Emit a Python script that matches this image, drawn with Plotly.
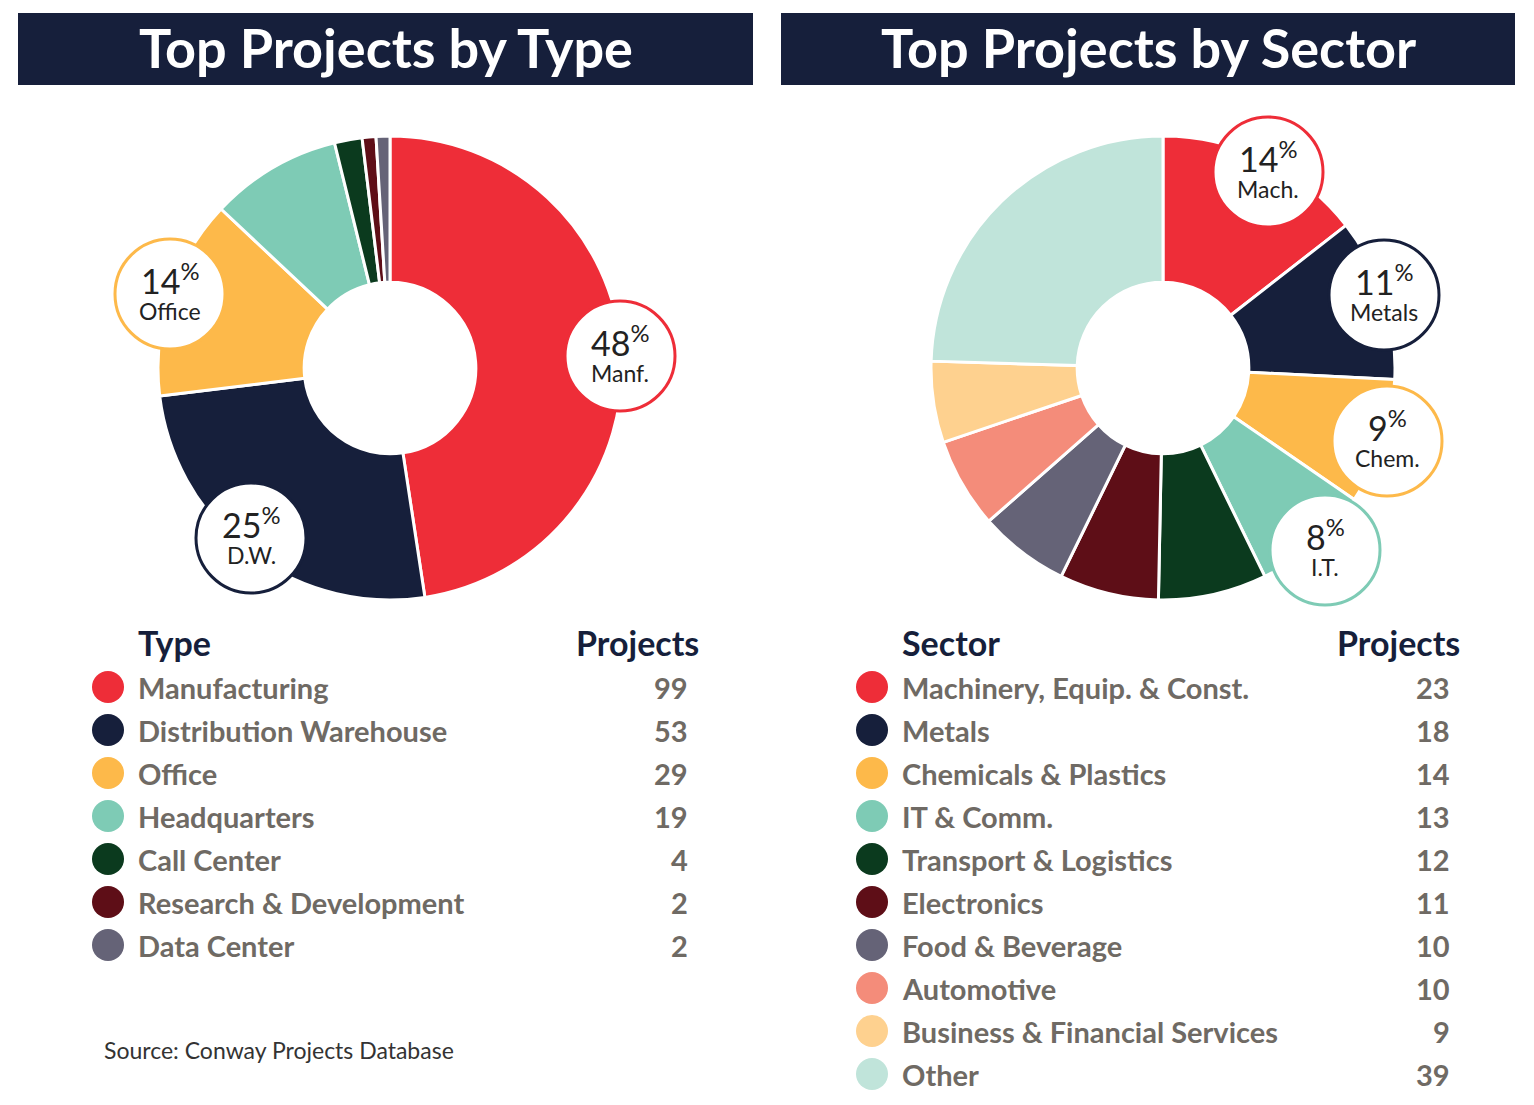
import plotly.graph_objs as go

NAVY = '#161F3B'
GREY = '#6F6A64'
FONT = 'Lato'
OFF = 8  # page margin of the browser

types = [('Manufacturing', 99, '#EE2D38'), ('Distribution Warehouse', 53, NAVY),
         ('Office', 29, '#FDB94A'), ('Headquarters', 19, '#7ECBB5'),
         ('Call Center', 4, '#0B3A1E'), ('Research & Development', 2, '#5E0E17'),
         ('Data Center', 2, '#656377')]

sectors = [('Machinery, Equip. & Const.', 23, '#EE2D38'), ('Metals', 18, NAVY),
           ('Chemicals & Plastics', 14, '#FDB94A'), ('IT & Comm.', 13, '#7ECBB5'),
           ('Transport & Logistics', 12, '#0B3A1E'), ('Electronics', 11, '#5E0E17'),
           ('Food & Beverage', 10, '#656377'), ('Automotive', 10, '#F48C7A'),
           ('Business & Financial Services', 9, '#FED18F'), ('Other', 39, '#C0E4DA')]

# callout bubbles: (x, y, percent, label, color)
type_bubbles = [(620, 356, '48', 'Manf.', '#EE2D38'), (170, 294, '14', 'Office', '#FDB94A'),
                (251, 538, '25', 'D.W.', NAVY)]
sector_bubbles = [(1268, 172, '14', 'Mach.', '#EE2D38'), (1384, 295, '11', 'Metals', NAVY),
                  (1387, 441, '9', 'Chem.', '#FDB94A'), (1325, 550, '8', 'I.T.', '#7ECBB5')]


def make_pie(rows, x0, x1):
    return go.Pie(
        labels=[r[0] for r in rows],
        values=[r[1] for r in rows],
        marker=dict(colors=[r[2] for r in rows], line=dict(color='white', width=3)),
        hole=0.37, sort=False, direction='clockwise', rotation=0,
        textinfo='none', hoverinfo='label+value+percent', showlegend=False,
        domain=dict(x=[(x0 - OFF) / 1534, (x1 - OFF) / 1534],
                    y=[1 - (600 - OFF) / 1105, 1 - (136 - OFF) / 1105]),
    )


def make_table(rows, title, dot_x, num_x, head_x, shapes, annotations):
    annotations.append(dict(x=dot_x + 28, y=642, text='<b>' + title + '</b>', xanchor='left',
                            showarrow=False, font=dict(size=34, color=NAVY)))
    annotations.append(dict(x=head_x, y=642, text='<b>Projects</b>', xanchor='right',
                            showarrow=False, font=dict(size=34, color=NAVY)))
    ys = [687 + 43 * i for i in range(len(rows))]
    for (name, n, col), y in zip(rows, ys):
        annotations.append(dict(x=dot_x + 28, y=y, text='<b>' + name + '</b>', xanchor='left',
                                showarrow=False, font=dict(size=29, color=GREY)))
        annotations.append(dict(x=num_x, y=y, text='<b>%d</b>' % n, xanchor='right',
                                showarrow=False, font=dict(size=29, color=GREY)))
    return go.Scatter(x=[dot_x] * len(rows), y=ys, mode='markers', hoverinfo='skip',
                      marker=dict(size=32, color=[r[2] for r in rows]), showlegend=False)


def add_bubbles(bubbles, shapes, annotations):
    for x, y, pct, label, col in bubbles:
        shapes.append(dict(type='circle', xref='x', yref='y', x0=x - 55, x1=x + 55,
                           y0=y - 55, y1=y + 55, fillcolor='white',
                           line=dict(color=col, width=3), layer='above'))
        annotations.append(dict(x=x, y=y - 15, text=pct + '<sup>%</sup>', showarrow=False,
                                font=dict(size=34, color='#222222')))
        annotations.append(dict(x=x, y=y + 17, text=label, showarrow=False,
                                font=dict(size=23, color='#222222')))


shapes = []
annotations = []
for x0, x1, text in [(18, 753, 'Top Projects by Type'), (781, 1515, 'Top Projects by Sector')]:
    shapes.append(dict(type='rect', xref='x', yref='y', x0=x0, x1=x1, y0=13, y1=85,
                       fillcolor=NAVY, line=dict(width=0), layer='below'))
    annotations.append(dict(x=(x0 + x1) / 2, y=47, text='<b>' + text + '</b>', showarrow=False,
                            font=dict(size=54, color='white')))

data = [make_pie(types, 158, 622), make_pie(sectors, 931, 1395)]
data.append(make_table(types, 'Type', 108, 690, 701, shapes, annotations))
data.append(make_table(sectors, 'Sector', 872, 1452, 1462, shapes, annotations))
add_bubbles(type_bubbles, shapes, annotations)
add_bubbles(sector_bubbles, shapes, annotations)

annotations.append(dict(x=102, y=1050, text='Source: Conway Projects Database', xanchor='left',
                        showarrow=False, font=dict(size=23, color='#333333')))

layout = go.Layout(
    width=1534, height=1105,
    margin=dict(l=0, r=0, t=0, b=0),
    paper_bgcolor='white', plot_bgcolor='white',
    font=dict(family=FONT),
    xaxis=dict(range=[OFF, 1534 + OFF], visible=False, domain=[0, 1]),
    yaxis=dict(range=[1105 + OFF, OFF], visible=False, domain=[0, 1]),
    shapes=shapes,
    annotations=annotations,
)

fig = go.Figure(data=data, layout=layout)
fig.write_html('out.html')
